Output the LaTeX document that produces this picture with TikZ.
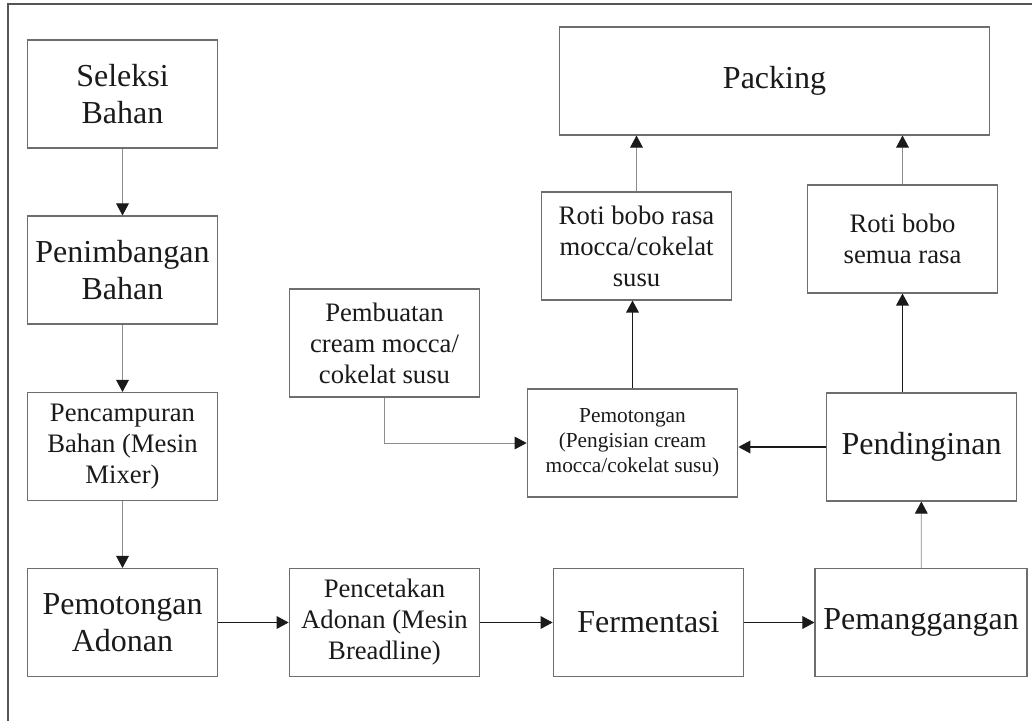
\documentclass[tikz,border=0pt]{standalone}
\usepackage{fontspec}
\setmainfont{Liberation Serif}
\usetikzlibrary{arrows.meta}
\definecolor{frame}{HTML}{555555}
\definecolor{edge} {HTML}{6E6E6E}
\definecolor{ink}  {HTML}{1A1A1A}
\definecolor{lite} {HTML}{8C8C8C}

\begin{document}
\begin{tikzpicture}[x=0.75pt,y=-0.75pt,
    box/.style ={draw=edge,line width=0.8pt,align=center,text=ink,
                 inner sep=2pt,minimum width=143pt,minimum height=81pt},
    big/.style ={font=\fontsize{24}{27.8}\selectfont},
    mid/.style ={font=\fontsize{20}{23.3}\selectfont},
    sml/.style ={font=\fontsize{16}{18.8}\selectfont},
    flow/.style={draw=ink,line width=0.6pt,
                 -{Triangle[length=9pt,width=9.5pt,color=ink]}},
    soft/.style={flow,draw=lite},
  ]

% fixed bounding box -> same proportions as the scan
\useasboundingbox (0,0) rectangle (1032,721);

% ---- page frame ------------------------------------------------------------
\draw[frame,line width=1.2pt] (8,721) -- (8,4) -- (1032,4);

% ---- left column -----------------------------------------------------------
\node[box,big] (seleksi) at (122.5,94)    {Seleksi\\Bahan};
\node[box,big] (timbang) at (122.5,270)   {Penimbangan\\Bahan};
\node[box,mid] (campur)  at (122.5,446.5) {Pencampuran\\Bahan (Mesin\\Mixer)};
\node[box,big] (potong)  at (122.5,622.5) {Pemotongan\\Adonan};

% ---- bottom row ------------------------------------------------------------
\node[box,mid] (cetak)    at (384.5,622.5) {Pencetakan\\Adonan (Mesin\\Breadline)};
\node[box,big] (ferment)  at (648.5,622.5) {Fermentasi};
\node[box,big,minimum width=159pt] (panggang) at (921,622.5) {Pemanggangan};

% ---- middle row ------------------------------------------------------------
\node[box,mid] (cream)  at (384.5,343) {Pembuatan\\cream mocca/\\cokelat susu};
\node[box,sml,minimum width=158pt] (isi) at (632.5,443)
  {Pemotongan\\(Pengisian cream\\mocca/cokelat susu)};
\node[box,big] (dingin) at (921.5,447) {Pendinginan};

% ---- top -------------------------------------------------------------------
\node[box,mid] (mocca)   at (636.5,246) {Roti bobo rasa\\mocca/cokelat\\susu};
\node[box,mid] (semua)   at (902.5,239) {Roti bobo\\semua rasa};
\node[box,big,minimum width=323pt] (packing) at (774.5,81) {Packing};

% ---- connectors ------------------------------------------------------------
\draw[soft] (seleksi) -- (timbang);
\draw[soft] (timbang) -- (campur);
\draw[soft] (campur)  -- (potong);
\draw[flow] (potong)  -- (cetak);
\draw[flow] (cetak)   -- (ferment);
\draw[flow] (ferment) -- (panggang);
\draw[soft] (panggang) -- (dingin);
\draw[flow,line width=1pt] (dingin.west) -- (dingin.west -| isi.east);
\draw[soft] (cream.south) |- (isi.west);
\draw[flow,line width=1pt] (isi.north) -- (isi.north |- mocca.south);
\draw[flow,line width=1pt] (dingin.north -| semua.south) -- (semua.south);
\draw[soft] (mocca.north) -- (mocca.north |- packing.south);
\draw[soft] (semua.north) -- (semua.north |- packing.south);

\end{tikzpicture}
\end{document}
